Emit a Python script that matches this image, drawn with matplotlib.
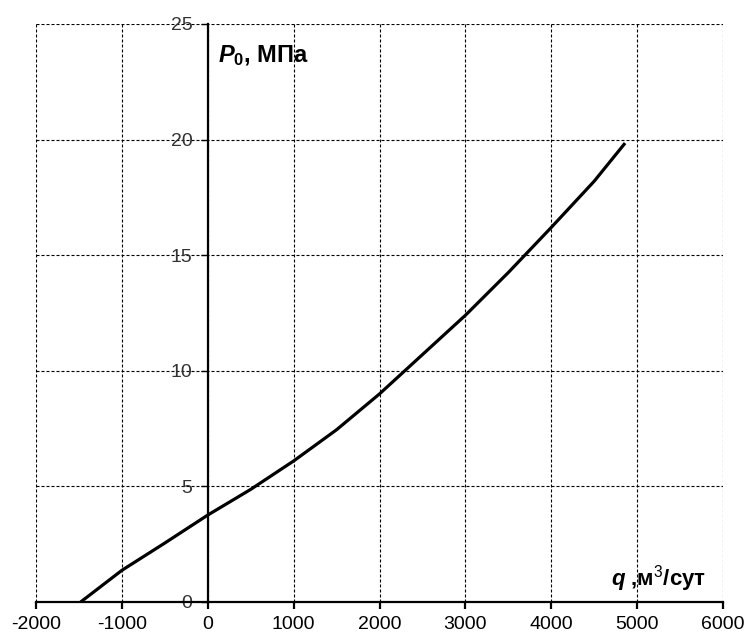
import matplotlib as mpl
mpl.use('Agg')
import matplotlib.pyplot as plt

# расход q, м3/сут и давление P0, МПа
q = [-1480, -1000, -500, 0, 500, 1000, 1500, 2000, 2500, 3000, 3500, 4000, 4500, 4860]
p0 = [0.0, 1.37, 2.55, 3.76, 4.87, 6.1, 7.45, 9.0, 10.7, 12.4, 14.25, 16.2, 18.2, 19.85]

x_ticks = [-2000, -1000, 0, 1000, 2000, 3000, 4000, 5000, 6000]
y_ticks = [0, 5, 10, 15, 20, 25]

plt.rcParams['font.family'] = ['Liberation Sans', 'DejaVu Sans']
plt.rcParams['axes.unicode_minus'] = False
plt.rcParams['mathtext.fontset'] = 'custom'
plt.rcParams['mathtext.rm'] = 'Liberation Sans'
plt.rcParams['mathtext.it'] = 'Liberation Sans:italic'
plt.rcParams['mathtext.bf'] = 'Liberation Sans:bold'
plt.rcParams['mathtext.bfit'] = 'Liberation Sans:bold:italic'

fig = plt.figure(figsize=(7.46, 6.42), dpi=100)
ax = fig.add_axes([36 / 746, 1 - 602 / 642, (723 - 36) / 746, (602 - 24) / 642])

ax.plot(q, p0, color='black', lw=2.3, solid_capstyle='butt', solid_joinstyle='round')

ax.set_xlim(-2000, 6000)
ax.set_ylim(0, 25)
ax.set_xticks(x_ticks)
ax.set_yticks(y_ticks)

# сетка пунктиром
ax.grid(True, color='black', lw=0.8, linestyle=(0, (2.7, 1.8)))
ax.set_axisbelow(True)

# оси через ноль
ax.spines['left'].set_position(('data', 0))
ax.spines['bottom'].set_position(('data', 0))
ax.spines['top'].set_visible(False)
ax.spines['right'].set_visible(False)
for s in ['left', 'bottom']:
    ax.spines[s].set_linewidth(1.6)
    ax.spines[s].set_zorder(3)

ax.tick_params(axis='x', direction='out', length=5, width=1.6, pad=5,
               labelsize=14)
ax.tick_params(axis='y', direction='out', length=5, width=1.0, pad=6,
               labelsize=14, labelcolor='#333333')

# подписи осей
ax.text(0.265, 0.946, r'$\mathbfit{P}_{\mathbf{0}}$, МПа', transform=ax.transAxes,
        fontsize=17, fontweight='bold', ha='left', va='center')
ax.text(0.975, 0.04, r'$\mathbfit{q}$ ,м$^{3}$/сут', transform=ax.transAxes,
        fontsize=16, fontweight='bold', ha='right', va='center')

fig.savefig('out.png', dpi=100)
plt.close(fig)
